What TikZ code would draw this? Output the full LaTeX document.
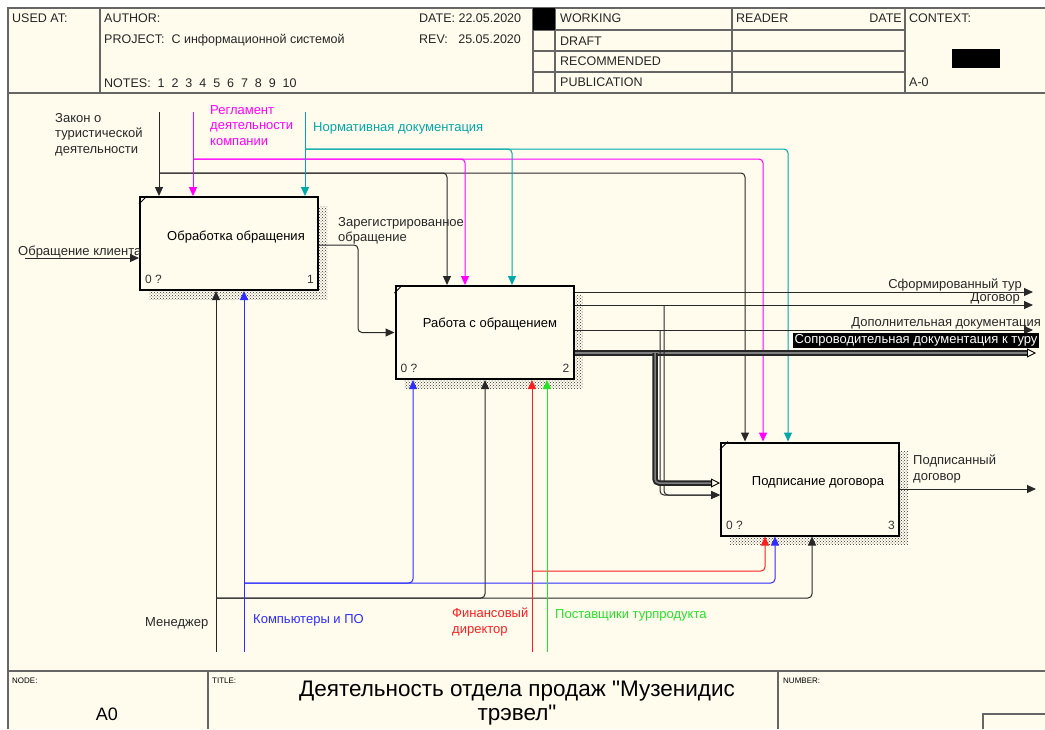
\documentclass[tikz,border=0pt]{standalone}
\usepackage{fontspec}
\setmainfont{Liberation Sans}[Ligatures=TeXOff]
\usetikzlibrary{arrows.meta,patterns,shadows}

\definecolor{paper}{RGB}{255,252,238}
\definecolor{ink}{RGB}{40,40,40}
\definecolor{idefmag}{RGB}{255,0,255}
\definecolor{idefcyan}{RGB}{0,168,168}
\definecolor{idefblue}{RGB}{45,45,255}
\definecolor{idefred}{RGB}{255,30,30}
\definecolor{idefgreen}{RGB}{40,225,40}

\begin{document}
\begin{tikzpicture}[x=1pt, y=-1pt, >={Triangle[length=9pt,width=8pt]},
    every node/.style={inner sep=0pt, font=\fontsize{13}{15.5}\selectfont},
    func/.style={draw, line width=2pt, fill=paper, minimum width=178pt, minimum height=93pt,
        general shadow={pattern=crosshatch dots, pattern color=black!80, shadow xshift=9pt, shadow yshift=-9pt}},
    flow/.style={->, line width=1pt, rounded corners=4pt},
    bigflow/.style={draw=black!85, line width=2pt, double=black!50, double distance=1.5pt,
        rounded corners=4pt, shorten >=8pt},
    frame/.style={draw=black!60, line width=1.2pt},
    hdr/.style={anchor=base west, font=\fontsize{12.5}{14}\selectfont, text=black!85},
    tiny/.style={anchor=base west, font=\fontsize{8}{9}\selectfont},
    numlbl/.style={font=\fontsize{12}{14}\selectfont, text=black!80}]

    \useasboundingbox (0,0) rectangle (1045,729);
    \fill[white] (0,0) rectangle (1045,729);
    \fill[paper] (8,8) rectangle (1045,729);

    % Шапка бланка
    \draw[frame] (1045,8) -- (8,8) -- (8,729);
    \draw[frame] (8,93) -- (1045,93);
    \foreach \x in {100,533,555,732,905} \draw[frame] (\x,8) -- (\x,93);
    \foreach \y in {30,51,72} \draw[frame] (533,\y) -- (905,\y);
    \fill (533,8) rectangle (555,30);
    \fill (952,49) rectangle (1000,68);
    \node[hdr] (usedat) at (12,22.5) {USED AT:};
    \node[hdr] (author) at (104,22.5) {AUTHOR:};
    \node[hdr] (project) at (104,43.5) {PROJECT:~~С информационной системой};
    \node[hdr] (notes) at (104,87.5) {NOTES:~~1~~2~~3~~4~~5~~6~~7~~8~~9~~10};
    \node[hdr] (date) at (419,22.5) {DATE: 22.05.2020};
    \node[hdr] (rev) at (419,43.5) {REV:~~~25.05.2020};
    \node[hdr] (working) at (560,22.5) {WORKING};
    \node[hdr] (draft) at (560,45.5) {DRAFT};
    \node[hdr] (recom) at (560,65.5) {RECOMMENDED};
    \node[hdr] (publ) at (560,86.5) {PUBLICATION};
    \node[hdr] (reader) at (736,22.5) {READER};
    \node[hdr, anchor=base east] (rdate) at (902,22.5) {DATE};
    \node[hdr] (context) at (909,22.5) {CONTEXT:};
    \node[hdr] (ctxname) at (909,86.5) {A-0};

    % Нижняя рамка
    \draw[frame] (8,671) -- (1045,671);
    \draw[frame] (208,671) -- (208,729);
    \draw[frame] (778,671) -- (778,729);
    \draw[frame] (983,729) -- (983,714) -- (1045,714);
    \node[tiny] (nodelbl) at (12,683) {NODE:};
    \node[font=\fontsize{18}{20}\selectfont] (nodenum) at (107,714) {A0};
    \node[tiny] (titlelbl) at (212,683) {TITLE:};
    \node[font=\fontsize{22.5}{24}\selectfont, align=center] (title) at (517,703.5)
        {Деятельность отдела продаж "Музенидис\\трэвел"};
    \node[tiny] (numberlbl) at (783,683) {NUMBER:};

    % Функциональные блоки
    \node[func, label={[xshift=7pt, yshift=6.5pt]center:Обработка обращения},
        label={[numlbl, anchor=base west, xshift=6pt, yshift=7.5pt]south west:0 ?},
        label={[numlbl, anchor=base east, xshift=-5pt, yshift=7.5pt]south east:1}]
        (box1) at (229,243.5) {};
    \node[func, label={[xshift=5.5pt, yshift=8pt]center:Работа с обращением},
        label={[numlbl, anchor=base west, xshift=6pt, yshift=7.5pt]south west:0 ?},
        label={[numlbl, anchor=base east, xshift=-5pt, yshift=7.5pt]south east:2}]
        (box2) at (484.5,332.5) {};
    \node[func, label={[xshift=8pt, yshift=7pt]center:Подписание договора},
        label={[numlbl, anchor=base west, xshift=6pt, yshift=7.5pt]south west:0 ?},
        label={[numlbl, anchor=base east, xshift=-5pt, yshift=7.5pt]south east:3}]
        (box3) at (810,489) {};
    \foreach \b in {box1,box2,box3}
        \draw[line width=0.8pt] ([yshift=-8pt]\b.north west) -- ([xshift=8pt]\b.north west);

    % Управление
    \coordinate (lawTop) at (159,112);
    \coordinate (regTop) at (193,112);
    \coordinate (normTop) at (305,112);
    \coordinate (lawFork) at (159,173);
    \coordinate (regFork) at (193,159);
    \coordinate (normFork) at (305,149);
    \draw[flow, ink] (lawTop) -- ([xshift=-70pt]box1.north);
    \draw[flow, ink] (lawFork) -| ([xshift=-37.5pt]box2.north);
    \draw[flow, ink] (lawFork) -| ([xshift=-65pt]box3.north);
    \draw[flow, idefmag] (regTop) -- ([xshift=-36pt]box1.north);
    \draw[flow, idefmag] (regFork) -| ([xshift=-19.5pt]box2.north);
    \draw[flow, idefmag] (regFork) -| ([xshift=-47pt]box3.north);
    \draw[flow, idefcyan] (normTop) -- ([xshift=76pt]box1.north);
    \draw[flow, idefcyan] (normFork) -| ([xshift=27.5pt]box2.north);
    \draw[flow, idefcyan] (normFork) -| ([xshift=-22pt]box3.north);
    \node[anchor=north west, align=left, text=ink] (lawLbl) at (55,113)
        {Закон о\\туристической\\деятельности};
    \node[anchor=north west, align=left, text=idefmag] (regLbl) at (210,105)
        {Регламент\\деятельности\\компании};
    \node[anchor=base west, text=idefcyan] (normLbl) at (313,131.5) {Нормативная документация};

    % Входы и выходы
    \coordinate (inEnd) at (25,258);
    \draw[flow, ink] (inEnd) -- (inEnd -| box1.west);
    \node[anchor=base west, text=ink] (inLbl) at (18,255) {Обращение клиента};
    \draw[flow, ink] ([yshift=-1.5pt]box1.east) -- ++(39,0) |- (box2.west);
    \node[anchor=north west, align=left, text=ink] (regObrLbl) at (338,217)
        {Зарегистрированное\\обращение};

    \coordinate (turEnd) at (1033,292);
    \coordinate (dogEnd) at (1033,305);
    \coordinate (dopEnd) at (1033,330);
    \coordinate (sopEnd) at (1036,353);
    \draw[flow, ink] (turEnd -| box2.east) -- (turEnd);
    \draw[flow, ink] (dogEnd -| box2.east) -- (dogEnd);
    \draw[flow, ink] (dopEnd -| box2.east) -- (dopEnd);
    \draw[bigflow] (sopEnd -| box2.east) -- (sopEnd);
    \draw[-{Triangle[open,length=9pt,width=9pt]}, line width=0.9pt] ([xshift=-9pt]sopEnd) -- (sopEnd);
    \node[anchor=base east, text=ink] (turLbl) at (1022,288) {Сформированный тур};
    \node[anchor=base east, text=ink] (dogLbl) at (1020,301.5) {Договор};
    \node[anchor=base east, text=ink] (dopLbl) at (1041,326.5) {Дополнительная документация};
    \node[anchor=west, fill=black, text=white, inner sep=1.5pt] (sopLbl) at (793,340.5)
        {Сопроводительная документация к туру};

    % Ветви к подписанию договора
    \coordinate (sopFork) at (655,353);
    \coordinate (dogFork) at (664,305);
    \coordinate (dopFork) at (660,330);
    \coordinate (sopIn) at ([yshift=6pt]box3.west);
    \draw[flow, ink] (dogFork) |- ([yshift=-6pt]box3.west);
    \draw[flow, ink] (dopFork) |- ([yshift=-6pt]box3.west);
    \draw[bigflow] (sopFork) |- (sopIn);
    \draw[-{Triangle[open,length=9pt,width=9pt]}, line width=0.9pt] ([xshift=-9pt]sopIn) -- (sopIn);

    \coordinate (signEnd) at (1036,489);
    \draw[flow, ink] (box3.east) -- (signEnd);
    \node[anchor=north west, align=left, text=ink] (signLbl) at (913,455) {Подписанный\\договор};

    % Механизмы
    \coordinate (manBot) at (216,652);
    \coordinate (compBot) at (244,652);
    \coordinate (finBot) at (532,652);
    \coordinate (supBot) at (547,652);
    \coordinate (manFork) at (216,598);
    \coordinate (compFork) at (244,583);
    \coordinate (finFork) at (532,571);
    \draw[flow, ink] (manBot) -- ([xshift=-13pt]box1.south);
    \draw[flow, ink] (manFork) -| ([xshift=0.5pt]box2.south);
    \draw[flow, ink] (manFork) -| ([xshift=2pt]box3.south);
    \draw[flow, idefblue] (compBot) -- ([xshift=15pt]box1.south);
    \draw[flow, idefblue] (compFork) -| ([xshift=-71.5pt]box2.south);
    \draw[flow, idefblue] (compFork) -| ([xshift=-35pt]box3.south);
    \draw[flow, idefred] (finBot) -- ([xshift=47.5pt]box2.south);
    \draw[flow, idefred] (finFork) -| ([xshift=-45pt]box3.south);
    \draw[flow, idefgreen] (supBot) -- ([xshift=62.5pt]box2.south);
    \node[anchor=base west, text=ink] (manLbl) at (145,626.5) {Менеджер};
    \node[anchor=base west, text=idefblue] (compLbl) at (253,623.5) {Компьютеры и ПО};
    \node[anchor=north west, align=left, text=idefred] (finLbl) at (452,608) {Финансовый\\директор};
    \node[anchor=base west, text=idefgreen] (supLbl) at (555,618.5) {Поставщики турпродукта};
\end{tikzpicture}
\end{document}
